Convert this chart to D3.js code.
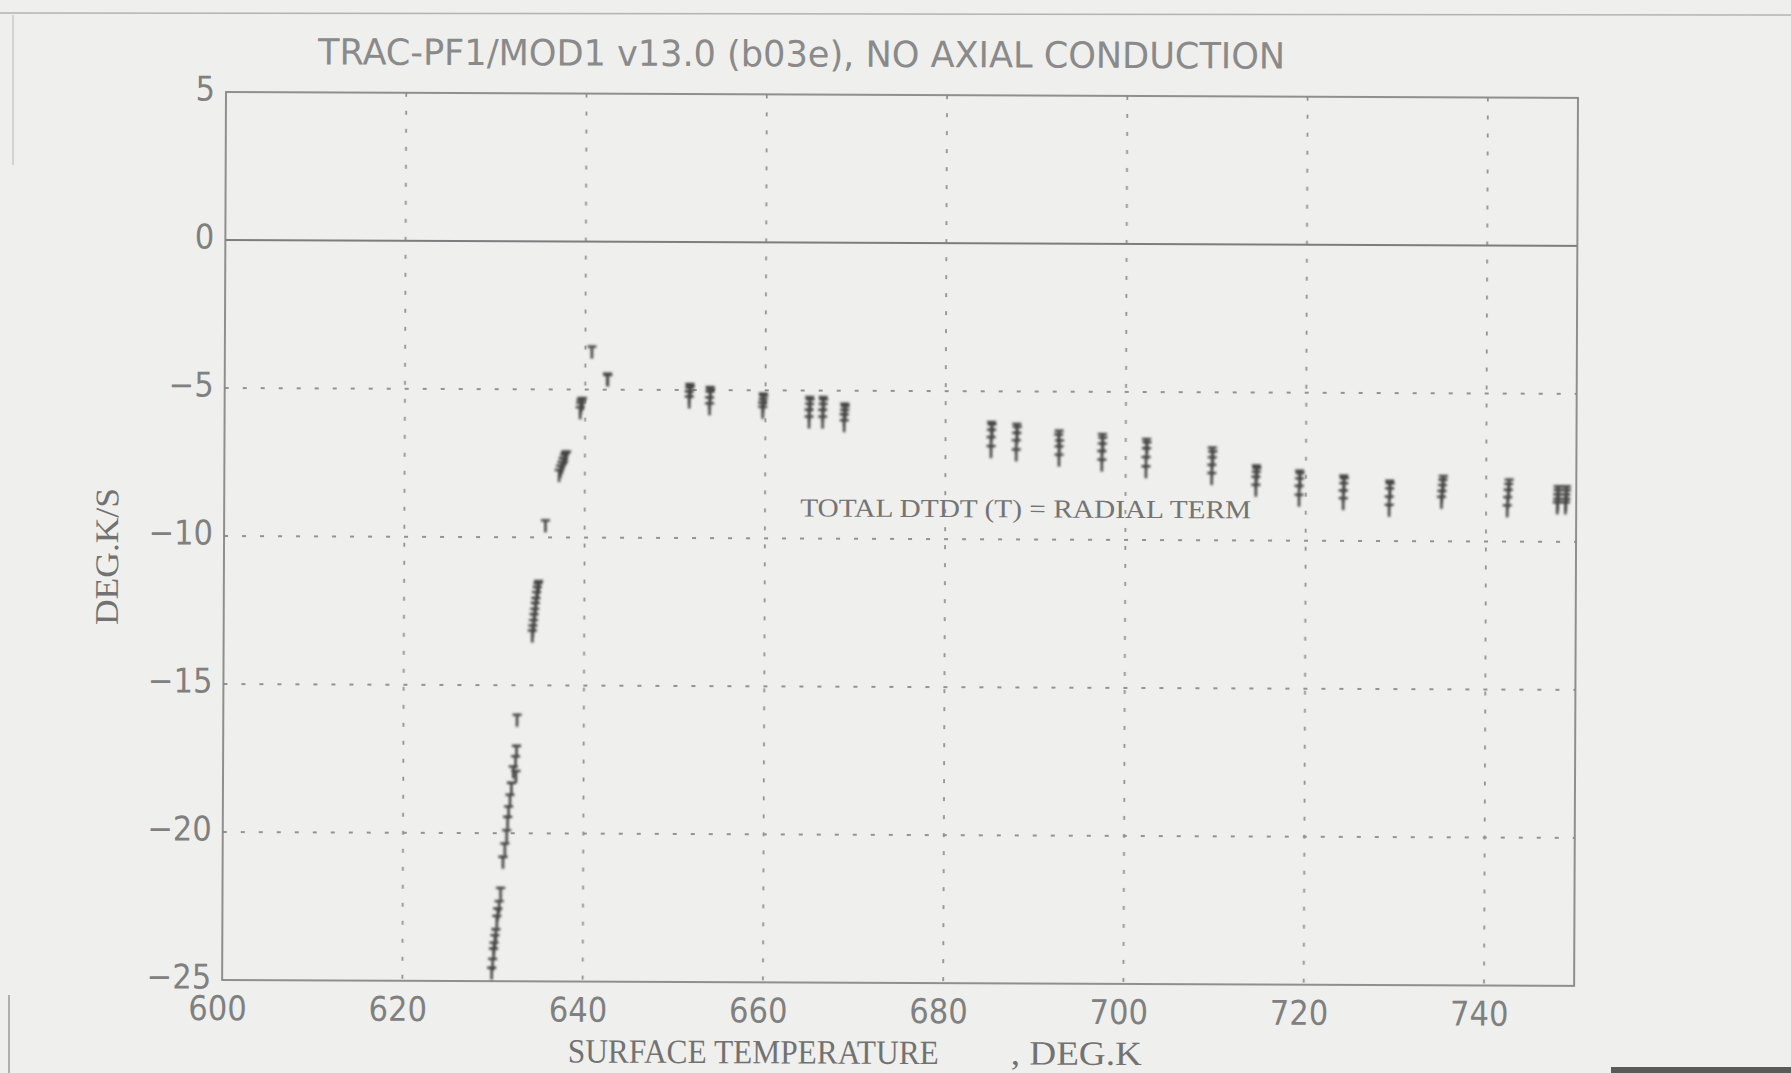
<!DOCTYPE html>
<html><head><meta charset="utf-8">
<script src="https://cdn.jsdelivr.net/npm/d3@7"></script>
<style>
body{margin:0;background:#efefed;}
svg{display:block;}
</style>
</head><body>
<svg id="chart" width="1791" height="1073"></svg>
<script>
// ---- data ----
const xTicks = [600, 620, 640, 660, 680, 700, 720, 740];
const yTicks = [5, 0, -5, -10, -15, -20, -25];
const xGrid = [620, 640, 660, 680, 700, 720, 740];
const yGrid = [-5, -10, -15, -20];

const titleText = "TRAC-PF1/MOD1 v13.0 (b03e), NO AXIAL CONDUCTION";
const yLabel = "DEG.K/S";
const xLabelMain = "SURFACE TEMPERATURE";
const xLabelUnit = ", DEG.K";
const noteText = "TOTAL DTDT (T) = RADIAL TERM";

// steep quench ramp (surface temperature K, total dT/dt K/s)
const rampTemp = [629.9, 630.0, 630.1, 630.15, 630.25, 630.35, 630.45, 630.55, 630.7, 630.85,
  631.1, 631.3, 631.5, 631.6, 631.7, 631.85, 632.0, 632.2, 632.5, 632.45, 632.55, 632.6,
  634.25, 634.3, 634.37, 634.43, 634.5, 634.57, 634.63, 634.7, 634.78, 634.85, 634.92,
  635.65,
  637.15, 637.3, 637.45, 637.6, 637.75, 637.85, 637.95,
  639.45, 639.5, 639.55, 639.62, 639.7,
  640.72, 642.45, 642.5];
const rampDtdt = [-24.75, -24.45, -24.1, -23.9, -23.65, -23.45, -23.0, -22.75, -22.5, -22.05,
  -21.0, -20.55, -20.1, -19.65, -19.3, -18.9, -18.5, -17.95, -18.1, -17.6, -17.25, -16.2,
  -13.35, -13.18, -13.0, -12.8, -12.62, -12.42, -12.25, -12.05, -11.88, -11.75, -11.68,
  -9.63,
  -7.92, -7.78, -7.65, -7.52, -7.4, -7.32, -7.3,
  -5.8, -5.65, -5.55, -5.5, -5.5,
  -3.75, -4.66, -4.7];

// slowly decaying plateau
const plateauTemp = [
  651.6, 651.65, 651.6, 651.55, 651.55,
  653.85, 653.9, 653.85, 653.8, 653.8,
  659.75, 659.8, 659.75, 659.7, 659.7,
  664.9, 664.95, 664.9, 664.85, 664.85,
  666.4, 666.45, 666.4, 666.35, 666.35,
  668.8, 668.85, 668.8, 668.75, 668.75,
  685.1, 685.15, 685.1, 685.05, 685.05,
  687.9, 687.95, 687.9, 687.85, 687.85,
  692.6, 692.55, 692.65, 692.6, 692.6,
  697.4, 697.45, 697.4, 697.35, 697.35,
  702.3, 702.35, 702.3, 702.25, 702.25,
  709.6, 709.65, 709.6, 709.55, 709.55,
  714.5, 714.55, 714.5, 714.45, 714.45,
  719.3, 719.35, 719.3, 719.25, 719.25,
  724.2, 724.25, 724.2, 724.15, 724.15,
  729.3, 729.35, 729.3, 729.25, 729.25,
  735.25, 735.2, 735.15, 735.1, 735.05,
  742.55, 742.5, 742.45, 742.4, 742.35,
  748.0, 748.0, 747.95, 747.95, 747.9,
  748.9, 748.9, 748.85, 748.85, 748.8];
const plateauDtdt = [
  -5.0, -5.05, -5.12, -5.25, -5.42,
  -5.1, -5.15, -5.25, -5.45, -5.65,
  -5.31, -5.38, -5.5, -5.62, -5.76,
  -5.42, -5.5, -5.65, -5.85, -6.08,
  -5.42, -5.5, -5.65, -5.85, -6.08,
  -5.64, -5.72, -5.85, -6.0, -6.2,
  -6.24, -6.32, -6.5, -6.75, -7.05,
  -6.3, -6.4, -6.6, -6.85, -7.16,
  -6.52, -6.65, -6.85, -7.05, -7.33,
  -6.63, -6.75, -6.95, -7.2, -7.49,
  -6.79, -6.9, -7.1, -7.4, -7.71,
  -7.07, -7.2, -7.4, -7.65, -7.93,
  -7.67, -7.75, -7.88, -8.05, -8.32,
  -7.84, -7.92, -8.1, -8.35, -8.65,
  -8.0, -8.08, -8.25, -8.5, -8.76,
  -8.17, -8.25, -8.42, -8.7, -8.98,
  -8.0, -8.12, -8.3, -8.5, -8.7,
  -8.11, -8.25, -8.45, -8.7, -8.98,
  -8.33, -8.45, -8.6, -8.75, -8.87,
  -8.33, -8.45, -8.6, -8.75, -8.87];

// ---- layout ----
const svg = d3.select("#chart");
const L = 226, T = 92, W = 1352, H = 888;
const x = d3.scaleLinear().domain([600, 750]).range([L, L + W]);
const y = d3.scaleLinear().domain([5, -25]).range([T, T + H]);

const defs = svg.append("defs");
defs.append("filter").attr("id", "scan").attr("filterUnits", "userSpaceOnUse")
  .attr("x", 0).attr("y", 0).attr("width", 1791).attr("height", 1073)
  .append("feGaussianBlur").attr("stdDeviation", 0.9);
defs.append("filter").attr("id", "soft").attr("filterUnits", "userSpaceOnUse")
  .attr("x", 0).attr("y", 0).attr("width", 1791).attr("height", 1073)
  .append("feGaussianBlur").attr("stdDeviation", 0.45);

// scan artefacts (page edges)
svg.append("line").attr("x1", 0).attr("x2", 1791).attr("y1", 13).attr("y2", 15)
  .attr("stroke", "#b3b3b3").attr("stroke-width", 1.5);
svg.append("line").attr("x1", 13).attr("x2", 13).attr("y1", 15).attr("y2", 165)
  .attr("stroke", "#c4c4c4").attr("stroke-width", 1.3);
svg.append("line").attr("x1", 9).attr("x2", 9).attr("y1", 995).attr("y2", 1073)
  .attr("stroke", "#9a9a9a").attr("stroke-width", 1.5);
svg.append("rect").attr("x", 1611).attr("y", 1067).attr("width", 180).attr("height", 6)
  .attr("fill", "#5a5a5a");

const g = svg.append("g").attr("transform", `rotate(0.25, ${L}, ${T})`);

// grid
const grid = g.append("g").attr("stroke", "#939393").attr("stroke-width", 1.8)
  .attr("stroke-dasharray", "4,14").attr("filter", "url(#soft)");
grid.selectAll("line.v").data(xGrid).join("line").attr("class", "v")
  .attr("x1", d => x(d)).attr("x2", d => x(d)).attr("y1", T).attr("y2", T + H);
grid.selectAll("line.h").data(yGrid).join("line").attr("class", "h")
  .attr("x1", L).attr("x2", L + W).attr("y1", d => y(d)).attr("y2", d => y(d));

// zero line and frame
g.append("line").attr("x1", L).attr("x2", L + W).attr("y1", y(0)).attr("y2", y(0))
  .attr("stroke", "#7d7d7d").attr("stroke-width", 1.8).attr("filter", "url(#soft)");
g.append("rect").attr("x", L).attr("y", T).attr("width", W).attr("height", H)
  .attr("fill", "none").attr("stroke", "#858585").attr("stroke-width", 1.8).attr("filter", "url(#soft)");

// axes (labels only)
const tickFont = '"Liberation Sans Narrow", "DejaVu Sans Condensed", sans-serif';
const ax = g.append("g").attr("transform", `translate(0,${T + H})`)
  .call(d3.axisBottom(x).tickValues(xTicks).tickSize(0).tickPadding(16).tickFormat(d3.format("d")));
const ay = g.append("g").attr("transform", `translate(${L},0)`)
  .call(d3.axisLeft(y).tickValues(yTicks).tickSize(0).tickPadding(11).tickFormat(d => d < 0 ? "\u2212" + Math.abs(d) : String(d)));
[ax, ay].forEach(a => {
  a.select(".domain").remove();
  a.selectAll("text").attr("font-family", tickFont).attr("font-size", 34)
    .attr("fill", "#808080");
});
ax.selectAll("text").attr("dx", -5);
ay.selectAll("text").attr("dy", "0.24em");

// title
g.append("text").attr("x", 318).attr("y", 64).text(titleText)
  .attr("font-family", tickFont).attr("font-size", 36).attr("fill", "#8a8a8a")
  .attr("textLength", 967).attr("lengthAdjust", "spacingAndGlyphs");

// axis titles (serif, typewriter look)
const serif = '"Liberation Serif", "DejaVu Serif", serif';
g.append("text").attr("transform", "translate(120,557) rotate(-90)")
  .attr("text-anchor", "middle").text(yLabel)
  .attr("font-family", serif).attr("font-size", 33).attr("fill", "#727272")
  .attr("textLength", 137).attr("lengthAdjust", "spacingAndGlyphs");
g.append("text").attr("x", 572).attr("y", 1061).text(xLabelMain)
  .attr("font-family", serif).attr("font-size", 34).attr("fill", "#727272")
  .attr("textLength", 371).attr("lengthAdjust", "spacingAndGlyphs");
g.append("text").attr("x", 1015).attr("y", 1061).text(xLabelUnit)
  .attr("font-family", serif).attr("font-size", 34).attr("fill", "#727272")
  .attr("textLength", 131).attr("lengthAdjust", "spacingAndGlyphs");

// annotation
g.append("text").attr("x", 802).attr("y", 514).text(noteText)
  .attr("font-family", serif).attr("font-size", 26).attr("fill", "#747474")
  .attr("textLength", 451).attr("lengthAdjust", "spacingAndGlyphs");

// markers: stacked "T" symbols
const marks = g.append("g").attr("filter", "url(#scan)")
  .attr("stroke", "#454545").attr("stroke-width", 2.6).attr("fill", "none");
const tPath = "M-4.5,-6H4.5M0,-6V6";
const rampPts = rampTemp.map((t, i) => [t, rampDtdt[i]]);
const platPts = plateauTemp.map((t, i) => [t, plateauDtdt[i]]);
marks.selectAll("path.r").data(rampPts).join("path").attr("class", "r")
  .attr("d", tPath).attr("transform", d => `translate(${x(d[0])},${y(d[1])})`);
marks.selectAll("path.p").data(platPts).join("path").attr("class", "p")
  .attr("d", tPath).attr("transform", d => `translate(${x(d[0])},${y(d[1])})`);
</script>
</body></html>
